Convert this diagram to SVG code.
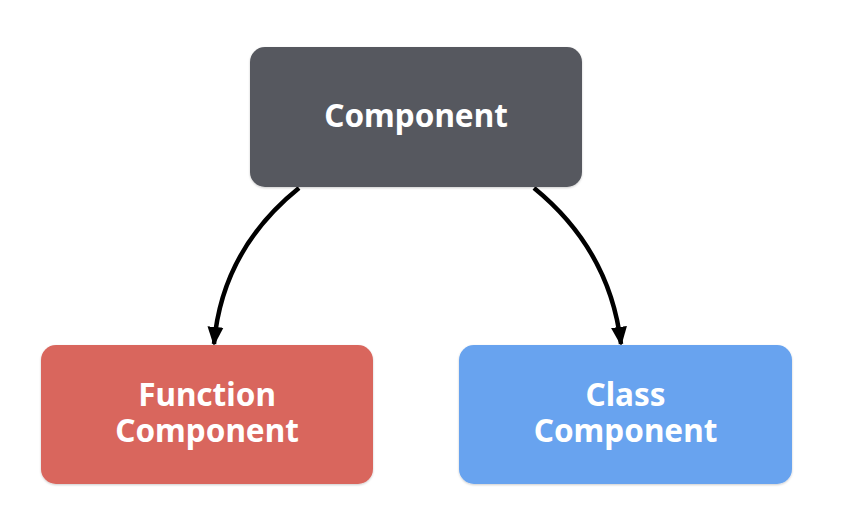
<svg xmlns="http://www.w3.org/2000/svg" width="852" height="510" viewBox="0 0 852 510">
<defs>
<marker id="arrow" viewBox="0 0 10 10" refX="9" refY="5" markerWidth="19" markerHeight="19" markerUnits="userSpaceOnUse" orient="auto">
<path d="M0,0.8 L10,5 L0,9.2 z" fill="#000"/>
</marker>
<filter id="sh" x="-5%" y="-5%" width="110%" height="115%">
<feDropShadow dx="0" dy="1" stdDeviation="1" flood-color="#000" flood-opacity="0.2"/>
</filter>
</defs>
<style>
.lbl{font-family:"Noto Sans","Open Sans","DejaVu Sans",sans-serif;font-weight:bold;font-size:31.5px;fill:#fff;text-anchor:middle}
.edge{fill:none;stroke:#000;stroke-width:4.5;marker-end:url(#arrow)}
</style>
<rect width="852" height="510" fill="#fff"/>
<g id="connectors">
<path class="edge" d="M299,188 Q222,250 214,344"/>
<path class="edge" d="M534,188 Q610,250 621,344"/>
</g>
<g id="component">
<rect x="250" y="47" width="332" height="140" rx="15" fill="#56585f" filter="url(#sh)"/>
<text class="lbl" x="416" y="127">Component</text>
</g>
<g id="function-component">
<rect x="41" y="345" width="332" height="139" rx="15" fill="#d9665d" filter="url(#sh)"/>
<text class="lbl" x="207" y="406">Function</text>
<text class="lbl" x="207" y="442">Component</text>
</g>
<g id="class-component">
<rect x="459" y="345" width="333" height="139" rx="15" fill="#67a3ef" filter="url(#sh)"/>
<text class="lbl" x="625.5" y="406">Class</text>
<text class="lbl" x="625.5" y="442">Component</text>
</g>
</svg>
